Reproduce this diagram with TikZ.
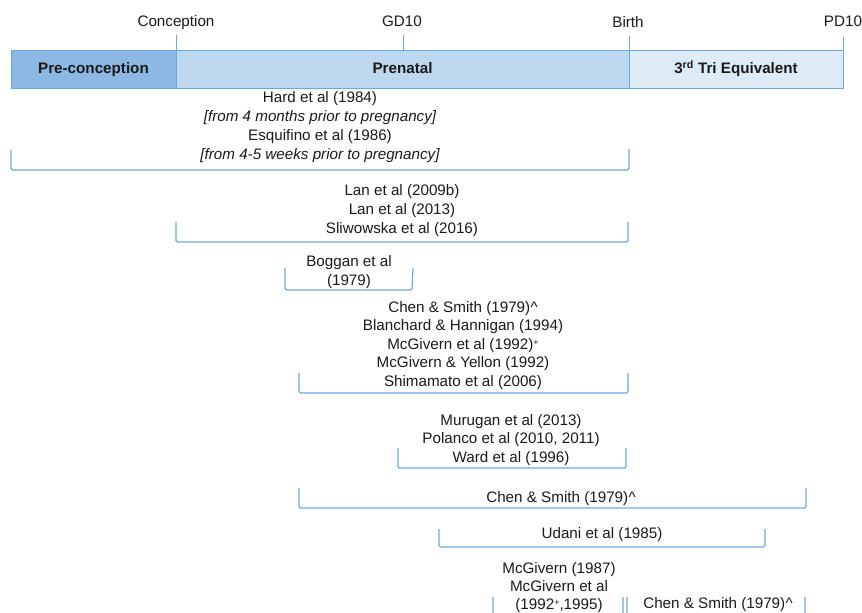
\documentclass[tikz,border=0pt]{standalone}
\usepackage{fontspec}
\setmainfont{Liberation Sans}
\definecolor{pre}{HTML}{8DB8E3}
\definecolor{prenat}{HTML}{BDD7EE}
\definecolor{tri}{HTML}{DDEBF7}
\definecolor{edge}{HTML}{6FA8DC}
\definecolor{txt}{HTML}{1A1A1A}
\newcommand{\crt}{\kern0.3bp\textasciicircum}
\newcommand{\sps}{\raisebox{3.5bp}{\fontsize{9bp}{9bp}\selectfont +}}
\begin{document}
\begin{tikzpicture}[x=1bp,y=-1bp,
  lbl/.style={anchor=base,inner sep=0pt,text=txt,font=\fontsize{15.2bp}{19bp}\selectfont},
  ilbl/.style={lbl,font=\fontsize{15.2bp}{19bp}\selectfont\itshape},
  blbl/.style={lbl,font=\fontsize{15.2bp}{19bp}\selectfont\bfseries},
  brk/.style={draw=edge,line width=1.2bp,rounded corners=1.5bp},
  tick/.style={draw=edge,line width=1bp},
  seg/.style={draw=edge,line width=0.9bp}]
\useasboundingbox (0,0) rectangle (862,613);
\clip (0,0) rectangle (862,613);
% timeline bar
\path[seg,fill=pre] (11,50) rectangle (176,88);
\path[seg,fill=prenat] (176,50) rectangle (629,88);
\path[seg,fill=tri] (629,50) rectangle (843,88);
\node[blbl] (tpre) at (93.5,74) {Pre-conception};
\node[blbl] (tprenat) at (402.5,74) {Prenatal};
\node[blbl] (ttri) at (736,74) {3\textsuperscript{rd} Tri Equivalent};
% ticks and labels
\coordinate (k1) at (176,35); \coordinate (k1b) at (176,50);
\coordinate (k2) at (403,35); \coordinate (k2b) at (403,50);
\coordinate (k3) at (629,36); \coordinate (k3b) at (629,50);
\coordinate (k4) at (843,37); \coordinate (k4b) at (843,50);
\draw[tick] (k1) -- (k1b);
\draw[tick] (k2) -- (k2b);
\draw[tick] (k3) -- (k3b);
\draw[tick] (k4) -- (k4b);
\node[lbl] (lconc) at (176,27) {Conception};
\node[lbl] (lgd) at (402,27) {GD10};
\node[lbl] (lbirth) at (628,28) {Birth};
\node[lbl] (lpd) at (843,27) {PD10};
% bracket 1
\node[lbl] (h1) at (320,103) {Hard et al (1984)};
\node[ilbl] (h2) at (320,122) {[from 4 months prior to pregnancy]};
\node[lbl] (h3) at (320,141) {Esquifino et al (1986)};
\node[ilbl] (h4) at (320,160) {[from 4-5 weeks prior to pregnancy]};
\draw[brk] (11,150) -- (11,170) -- (629,170) -- (629,149);
% bracket 2
\node[lbl] (l1) at (402,196) {Lan et al (2009b)};
\node[lbl] (l2) at (402,215) {Lan et al (2013)};
\node[lbl] (l3) at (402,234) {Sliwowska et al (2016)};
\draw[brk] (176,222) -- (176,242) -- (628,242) -- (628,222);
% bracket 3
\node[lbl] (b1) at (349,266) {Boggan et al};
\node[lbl] (b2) at (349,285) {(1979)};
\draw[brk] (285,268) -- (285,290) -- (412,290) -- (413,268);
% bracket 4
\node[lbl] (c1) at (463,312) {Chen \& Smith (1979)\crt};
\node[lbl] (c2) at (463,330) {Blanchard \& Hannigan (1994)};
\node[lbl] (c3) at (463,349) {McGivern et al (1992)\sps};
\node[lbl] (c4) at (463,367) {McGivern \& Yellon (1992)};
\node[lbl] (c5) at (463,386) {Shimamato et al (2006)};
\draw[brk] (299,373) -- (299,393) -- (628,393) -- (628,373);
% bracket 5
\node[lbl] (m1) at (511,425) {Murugan et al (2013)};
\node[lbl] (m2) at (511,443) {Polanco et al (2010, 2011)};
\node[lbl] (m3) at (511,462) {Ward et al (1996)};
\draw[brk] (398,448) -- (398,468) -- (626,468) -- (626,448);
% bracket 6
\node[lbl] (s1) at (561,502) {Chen \& Smith (1979)\crt};
\draw[brk] (299,488) -- (299,508) -- (806,508) -- (806,488);
% bracket 7
\node[lbl] (u1) at (602,538) {Udani et al (1985)};
\draw[brk] (439,529) -- (439,547) -- (765,547) -- (765,529);
% bracket 8 and 9 (cut off at bottom)
\node[lbl] (g1) at (559,573) {McGivern (1987)};
\node[lbl] (g2) at (559,591) {McGivern et al};
\node[lbl] (g3) at (559,609) {(1992\sps,1995)};
\draw[brk] (493,597) -- (493,625) -- (623,625) -- (623,597);
\node[lbl] (z1) at (718,608) {Chen \& Smith (1979)\crt};
\draw[brk] (627,597) -- (627,625) -- (805,625) -- (805,597);
\end{tikzpicture}
\end{document}
